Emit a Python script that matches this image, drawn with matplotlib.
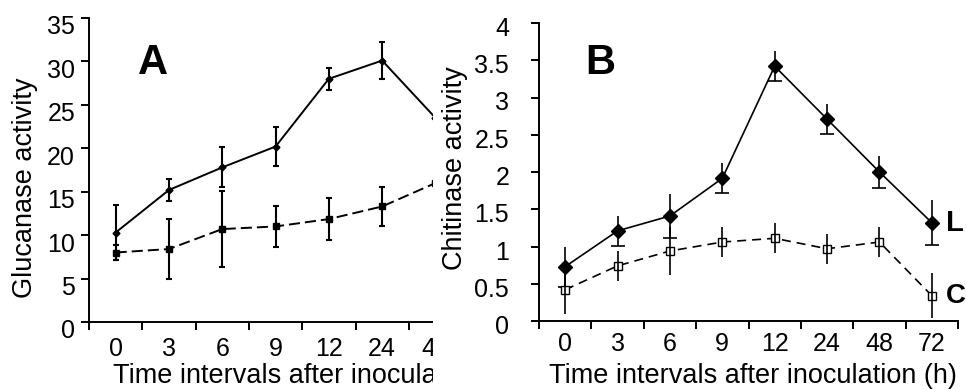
import numpy as np
import matplotlib
matplotlib.use("Agg")
import matplotlib.pyplot as plt
from matplotlib.patches import Rectangle
from matplotlib.transforms import ScaledTranslation

plt.rcParams['font.family'] = ['Liberation Sans', 'DejaVu Sans']
plt.rcParams['lines.scale_dashes'] = False

# ---------------- data ----------------
time_labels = ["0", "3", "6", "9", "12", "24", "48", "72"]

# Panel A: glucanase activity (the 72 h column is cropped off in the original)
gluc_L = [10.3, 15.2, 17.8, 20.2, 28.0, 30.1, 23.5]
gluc_L_err = [3.2, 1.25, 2.3, 2.2, 1.3, 2.15, np.nan]
gluc_C = [8.0, 8.4, 10.7, 11.0, 11.85, 13.3, 16.0]
gluc_C_err = [0.9, 3.45, 4.4, 2.4, 2.45, 2.2, np.nan]

# Panel B: chitinase activity
chit_L = [0.73, 1.21, 1.41, 1.915, 3.42, 2.71, 2.0, 1.32]
chit_L_err = [0.27, 0.2, 0.3, 0.2, 0.2, 0.2, 0.21, 0.3]
chit_C = [0.42, 0.74, 0.94, 1.06, 1.11, 0.97, 1.06, 0.34]
chit_C_err = [0.32, 0.2, 0.32, 0.2, 0.2, 0.2, 0.2, 0.3]

gluc_yticks = [0, 5, 10, 15, 20, 25, 30, 35]
chit_yticks = [0, 0.5, 1, 1.5, 2, 2.5, 3, 3.5, 4]
chit_yticklabels = ["0", "0.5", "1", "1.5", "2", "2.5", "3", "3.5", "4"]

W, H = 966, 390
fig = plt.figure(figsize=(W / 100, H / 100), dpi=100)


def px_axes(left, top, right, bottom):
    return [left / W, (H - bottom) / H, (right - left) / W, (bottom - top) / H]


axA = fig.add_axes(px_axes(89, 18, 89 + 8 * 53.3, 322), zorder=0)
axB = fig.add_axes(px_axes(539, 23, 958, 321), zorder=2)

# cropping mask for panel A (original figure is cut at the right)
fig.add_artist(Rectangle((433 / W, 0), (539 - 433) / W, 1, transform=fig.transFigure,
                         facecolor='white', edgecolor='none', zorder=1))

TICKFS = 18
LABELFS = 19.5


def style_axes(ax, n, ylim, yticks, yticklabels, ypad, xpad, ydy):
    for s in ['top', 'right']:
        ax.spines[s].set_visible(False)
    for s in ['left', 'bottom']:
        ax.spines[s].set_linewidth(1.4)
    ax.set_xlim(0, n)
    ax.set_ylim(*ylim)
    ax.set_xticks(np.arange(0, n + 1))
    ax.set_xticklabels([])
    ax.set_xticks(np.arange(n) + 0.5, minor=True)
    ax.set_xticklabels(time_labels[:n], minor=True, fontsize=TICKFS)
    ax.tick_params(axis='x', which='major', length=6, width=1.4, direction='out')
    ax.tick_params(axis='x', which='minor', length=0, pad=xpad)
    ax.set_yticks(yticks)
    ax.set_yticklabels(yticklabels, fontsize=TICKFS)
    ax.tick_params(axis='y', which='major', length=6, width=1.4, direction='out', pad=ypad)
    for t in ax.yaxis.get_major_ticks():
        t.label1.set_transform(t.label1.get_transform() +
                               ScaledTranslation(0, -ydy / 100, fig.dpi_scale_trans))


# ---------------- Panel A ----------------
xA = np.arange(len(gluc_L)) + 0.5
style_axes(axA, 8, (0, 35), gluc_yticks, [str(v) for v in gluc_yticks], 4.0, 11, 7)
axA.plot(xA, gluc_L, color='black', lw=1.4, marker='D', ms=3.5)
axA.errorbar(xA, gluc_L, yerr=gluc_L_err, fmt='none', ecolor='black', elinewidth=1.5,
             capsize=2.5, capthick=1.5)
axA.plot(xA, gluc_C, color='black', lw=1.4, ls=(0, (8, 3.6)), marker='s', ms=4)
axA.errorbar(xA, gluc_C, yerr=gluc_C_err, fmt='none', ecolor='black', elinewidth=1.5,
             capsize=2.5, capthick=1.5)
axA.set_ylabel("Glucanase activity", fontsize=LABELFS, va='center', ha='center')
axA.yaxis.set_label_coords(-0.150, 0.44)
axA.set_xlabel("Time intervals after inoculation (h)", fontsize=LABELFS, va='baseline')
axA.xaxis.set_label_coords(0.535, -0.2007)
axA.text(0.150, 0.852, "A", transform=axA.transAxes, fontsize=30, fontweight='bold',
         ha='center', va='center')

# ---------------- Panel B ----------------
xB = np.arange(len(chit_L)) + 0.5
style_axes(axB, 8, (0, 4), chit_yticks, chit_yticklabels, 15.5, 8, 3.5)
axB.errorbar(xB, chit_L, yerr=chit_L_err, fmt='none', ecolor='black', elinewidth=1.2,
             capsize=0, zorder=2)
axB.plot(xB, np.array(chit_L) - np.array(chit_L_err), ls='none', marker='_', ms=9.4,
         mew=1.2, color='black', zorder=2)
axB.plot(xB, chit_L, color='black', lw=1.2, marker='D', ms=7, zorder=3)
axB.plot(xB, chit_C, color='black', lw=1.2, ls=(0, (6.5, 4.3)), marker='s', ms=5.8,
         mfc='white', mec='black', mew=1.0, zorder=3)
axB.errorbar(xB, chit_C, yerr=chit_C_err, fmt='none', ecolor='black', elinewidth=1.2,
             capsize=0, zorder=4)
axB.set_ylabel("Chitinase activity", fontsize=LABELFS, va='center', ha='center')
axB.yaxis.set_label_coords((455 - 539) / 419, 0.513)
axB.set_xlabel("Time intervals after inoculation (h)", fontsize=LABELFS, va='baseline')
axB.xaxis.set_label_coords(0.51, -0.208)
axB.text(0.146, 0.866, "B", transform=axB.transAxes, fontsize=30, fontweight='bold',
         ha='center', va='center')
axB.text(xB[-1] + 0.27, chit_L[-1], "L", fontsize=21, fontweight='bold', ha='left',
         va='center', clip_on=False)
axB.text(xB[-1] + 0.27, chit_C[-1], "C", fontsize=20, fontweight='bold', ha='left',
         va='center', clip_on=False)

fig.savefig("out.png", dpi=100)
